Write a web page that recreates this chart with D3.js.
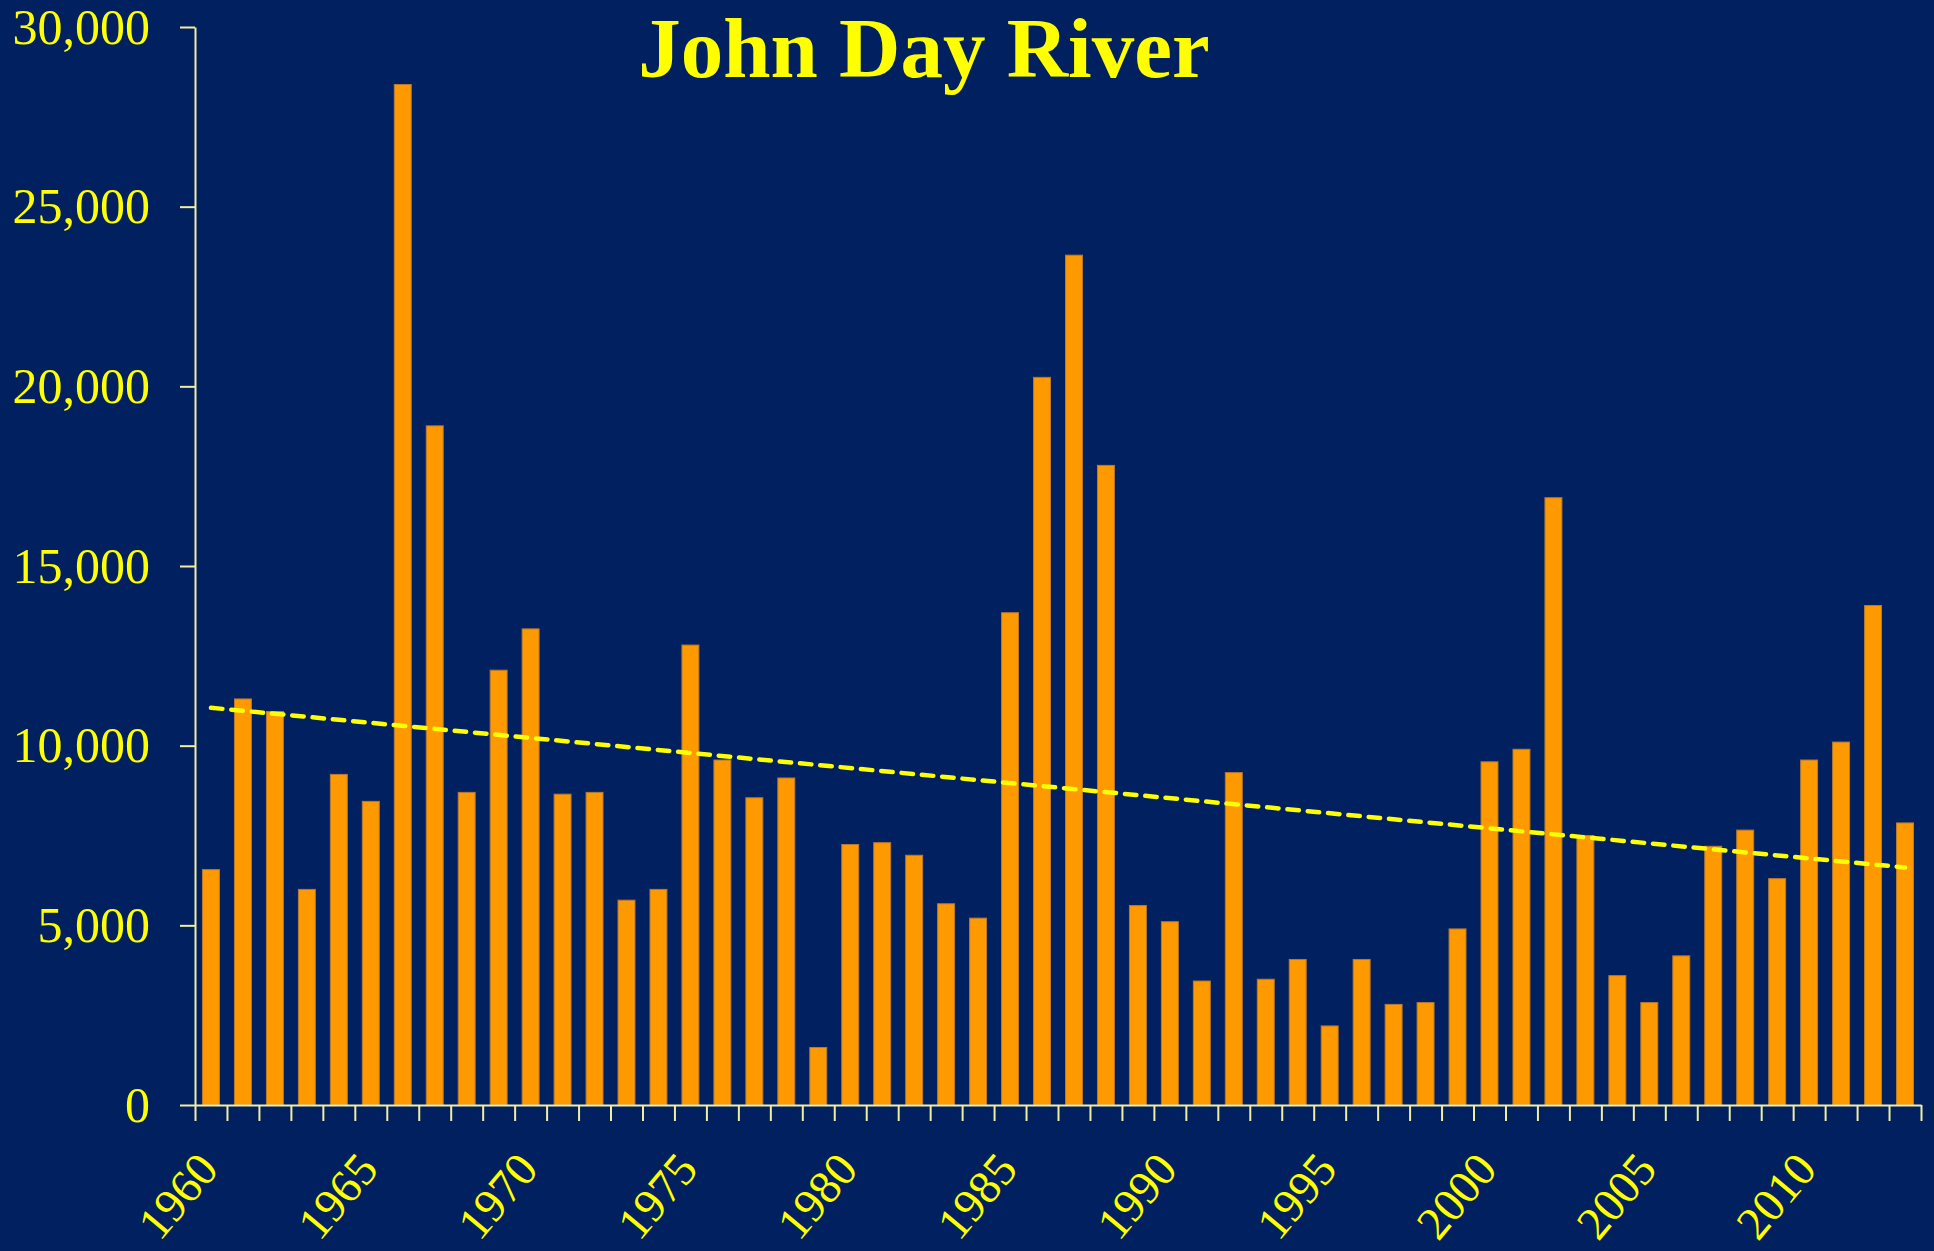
<!DOCTYPE html>
<html>
<head>
<meta charset="utf-8">
<script src="https://cdn.jsdelivr.net/npm/d3@7"></script>
<style>
  body { margin: 0; background: #002060; }
  #my_dataviz { width: 1934px; height: 1251px; }
</style>
</head>
<body>
<div id="my_dataviz"></div>
<script>

// data
var years = d3.range(1960, 2014);
var flows = [
    6550, 11300, 10950, 6000, 9200, 8450, 28400, 18900, 8700, 12100,
    13250, 8650, 8700, 5700, 6000, 12800, 9600, 8550, 9100, 1600,
    7250, 7300, 6950, 5600, 5200, 13700, 20250, 23650, 17800, 5550,
    5100, 3450, 9250, 3500, 4050, 2200, 4050, 2800, 2850, 4900,
    9550, 9900, 16900, 7500, 3600, 2850, 4150, 7200, 7650, 6300,
    9600, 10100, 13900, 7850
];
var yTicks = [0, 5000, 10000, 15000, 20000, 25000, 30000];
var labelYears = [1960, 1965, 1970, 1975, 1980, 1985, 1990, 1995, 2000, 2005, 2010];
var title = "John Day River";

var margin = {top: 27, right: 13, bottom: 146, left: 195},
    width = 1934 - margin.left - margin.right,
    height = 1251 - margin.top - margin.bottom;

var axisColor = "#f2eea0";
var textColor = "#ffff00";
var serif = "'Liberation Serif', 'Times New Roman', serif";

var svg = d3.select("#my_dataviz")
    .append("svg")
    .attr("width", 1934)
    .attr("height", 1251)
    .style("background", "#002060");

var g = svg.append("g")
    .attr("transform", "translate(" + margin.left + "," + margin.top + ")");

var data = years.map(function(y, i) { return {year: y, value: flows[i]}; });

// X scale: one band per year, bars about half the band
var x = d3.scaleBand()
    .domain(years)
    .range([0, width])
    .paddingInner(0.47)
    .paddingOuter(0.235);

// tick positions sit on the band edges
var xEdge = d3.scaleLinear()
    .domain([0, years.length])
    .range([0, width]);

var y = d3.scaleLinear()
    .domain([0, 30000])
    .range([height, 0]);

// bars
g.selectAll(".bar")
    .data(data)
    .enter()
    .append("rect")
    .attr("class", "bar")
    .attr("x", function(d) { return x(d.year); })
    .attr("y", function(d) { return y(d.value); })
    .attr("width", x.bandwidth())
    .attr("height", function(d) { return height - y(d.value); })
    .style("fill", "#ff9900")
    .style("stroke", "#b87a30")
    .style("stroke-width", 1);

// linear trend (least squares on year index)
var n = flows.length;
var mx = d3.mean(d3.range(n)), my = d3.mean(flows);
var sxy = d3.sum(flows, function(v, i) { return (i - mx) * (v - my); });
var sxx = d3.sum(d3.range(n), function(i) { return (i - mx) * (i - mx); });
var slope = sxy / sxx, icpt = my - slope * mx;

g.append("line")
    .attr("x1", x(years[0]) + x.bandwidth() / 2)
    .attr("y1", y(icpt))
    .attr("x2", x(years[n - 1]) + x.bandwidth() / 2)
    .attr("y2", y(icpt + slope * (n - 1)))
    .style("stroke", "#ffff00")
    .style("stroke-width", 4.5)
    .style("stroke-linecap", "round")
    .style("stroke-dasharray", "11.5,8.9");

// Y axis
var gY = g.append("g")
    .call(d3.axisLeft(y)
        .tickValues(yTicks)
        .tickSize(15)
        .tickSizeOuter(0)
        .tickPadding(30)
        .tickFormat(d3.format(",")));
gY.selectAll("path, line").style("stroke", axisColor).style("stroke-width", 2);
gY.selectAll("text")
    .style("fill", textColor)
    .style("font-family", serif)
    .style("font-size", "50px");

// X axis
var gX = g.append("g")
    .attr("transform", "translate(0," + height + ")")
    .call(d3.axisBottom(xEdge)
        .tickValues(d3.range(years.length + 1))
        .tickSize(16)
        .tickSizeOuter(0)
        .tickFormat(""));
gX.selectAll("path, line").style("stroke", axisColor).style("stroke-width", 2);

// year labels every five years, turned about 50 degrees
g.selectAll(".yearlabel")
    .data(labelYears)
    .enter()
    .append("text")
    .attr("class", "yearlabel")
    .attr("transform", function(d) {
        return "translate(" + (x(d) + x.bandwidth() / 2 - 3) + "," + (height + 55) + ") rotate(-50)";
    })
    .attr("text-anchor", "end")
    .attr("dy", "0.34em")
    .style("fill", textColor)
    .style("font-family", serif)
    .style("font-size", "47px")
    .text(function(d) { return d; });

// title
svg.append("text")
    .attr("x", 924)
    .attr("y", 77)
    .attr("text-anchor", "middle")
    .style("fill", textColor)
    .style("font-family", serif)
    .style("font-weight", "bold")
    .style("font-size", "85px")
    .text(title);

</script>
</body>
</html>
